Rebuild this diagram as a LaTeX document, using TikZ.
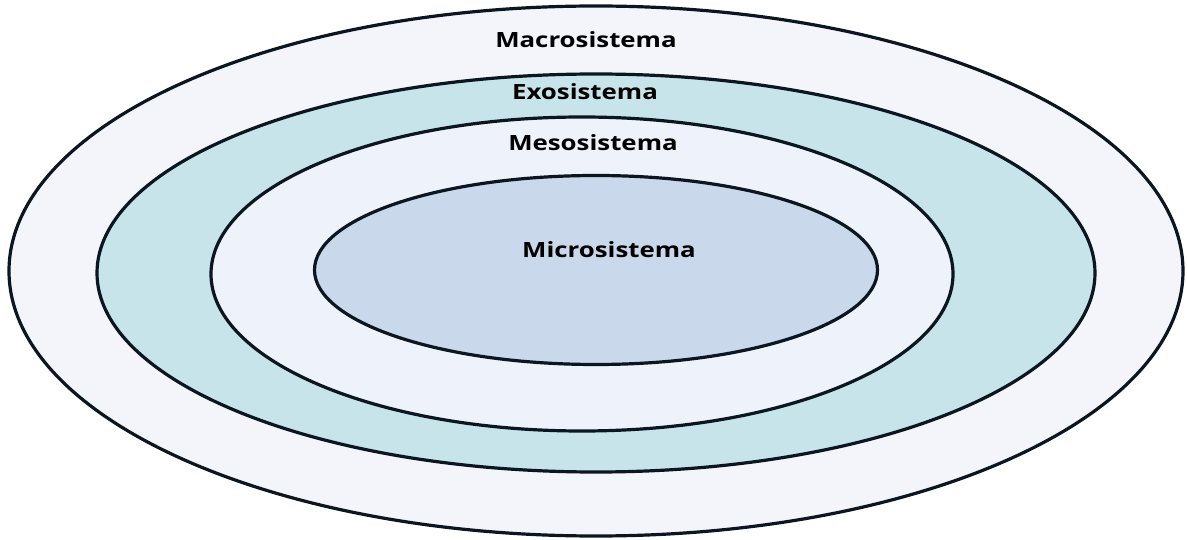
\documentclass[tikz,border=0pt]{standalone}
\usepackage{fontspec}
\setmainfont{Open Sans}
\usepackage{tikz}
\usetikzlibrary{shapes.geometric}
\definecolor{ringline}{HTML}{0B1620}
\definecolor{macrofill}{HTML}{F3F5FA}
\definecolor{exofill}{HTML}{C6E4EA}
\definecolor{mesofill}{HTML}{EEF2FA}
\definecolor{microfill}{HTML}{C9D8EA}

\begin{document}
\begin{tikzpicture}[x=1pt,y=-1pt]
\useasboundingbox (0,0) rectangle (1187,540);
\begin{scope}[every node/.style={ellipse,draw=ringline,line width=3.2pt,inner sep=0pt}]
\node (macro) [fill=macrofill,minimum width=1174pt,minimum height=530pt] at (596,271) {};
\node (exo) [fill=exofill,minimum width=998pt,minimum height=398pt] at (596,273) {};
\node (meso) [fill=mesofill,minimum width=742pt,minimum height=314pt] at (582,274) {};
\node (micro) [fill=microfill,minimum width=563pt,minimum height=189pt] at (596,270) {};
\end{scope}

\begin{scope}[every node/.style={font=\bfseries\fontsize{21}{24}\selectfont,text=black,inner sep=0pt}]
\node (tmacro) at (586,40) {\scalebox{1.23}[1]{Macrosistema}};
\node (texo) at (585,92) {\scalebox{1.23}[1]{Exosistema}};
\node (tmeso) at (593,143) {\scalebox{1.23}[1]{Mesosistema}};
\node (tmicro) at (609,250) {\scalebox{1.23}[1]{Microsistema}};
\end{scope}
\end{tikzpicture}
\end{document}
